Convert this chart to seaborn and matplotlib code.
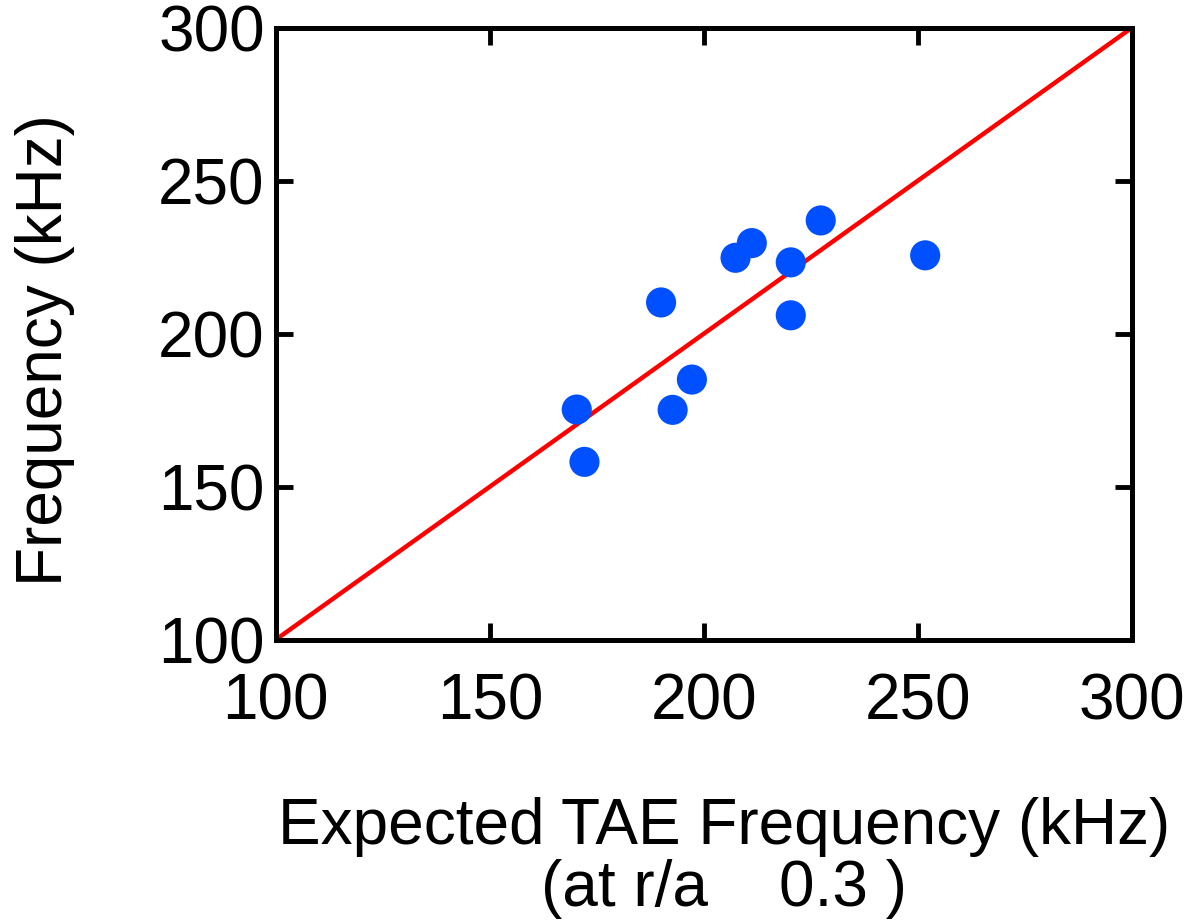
import matplotlib
matplotlib.use("Agg")
import matplotlib.pyplot as plt
import seaborn as sns
import pandas as pd

expected_khz = [170.3, 172.1, 190.0, 192.7, 197.2, 207.4, 211.2, 220.3, 220.3, 227.3, 251.7]
measured_khz = [175.2, 158.1, 210.2, 175.1, 185.0, 224.8, 229.6, 223.3, 206.0, 237.0, 225.6]
ref_line = [100, 300]
ticks = [100, 150, 200, 250, 300]

sns.set_theme(style="white")
plt.rcParams['font.family'] = ['Liberation Sans', 'DejaVu Sans']
plt.rcParams['text.color'] = 'black'
plt.rcParams['axes.labelcolor'] = 'black'

fig = plt.figure(figsize=(11.89, 9.23), dpi=100)
ax = fig.add_axes([0.232, 0.307, 0.720, 0.663])

df = pd.DataFrame({"x": expected_khz, "y": measured_khz})
sns.lineplot(x=ref_line, y=ref_line, ax=ax, color="#ff0000", linewidth=3.2, zorder=2)
sns.scatterplot(data=df, x="x", y="y", ax=ax, s=470, color="#0050ff", edgecolor="none", zorder=3)

ax.set_xlim(100, 300)
ax.set_ylim(100, 300)
ax.set_xticks(ticks)
ax.set_yticks(ticks)
ax.tick_params(axis="both", direction="in", length=12, width=3.5, labelsize=46,
               top=True, right=True, bottom=True, left=True,
               colors="black", labelcolor="black")
ax.tick_params(axis="x", pad=24)
ax.tick_params(axis="y", pad=8)
for sp in ax.spines.values():
    sp.set_linewidth(3.6)
    sp.set_color("black")

ax.set_xlabel("Expected TAE Frequency (kHz)\n(at r/a    0.3 )", fontsize=46, labelpad=46,
              linespacing=1.05, color="black")
ax.xaxis.label.set_x(0.524)
ax.set_ylabel("Frequency (kHz)", fontsize=46, labelpad=60, color="black")
ax.yaxis.label.set_y(0.474)

fig.savefig("out.png", dpi=100)
